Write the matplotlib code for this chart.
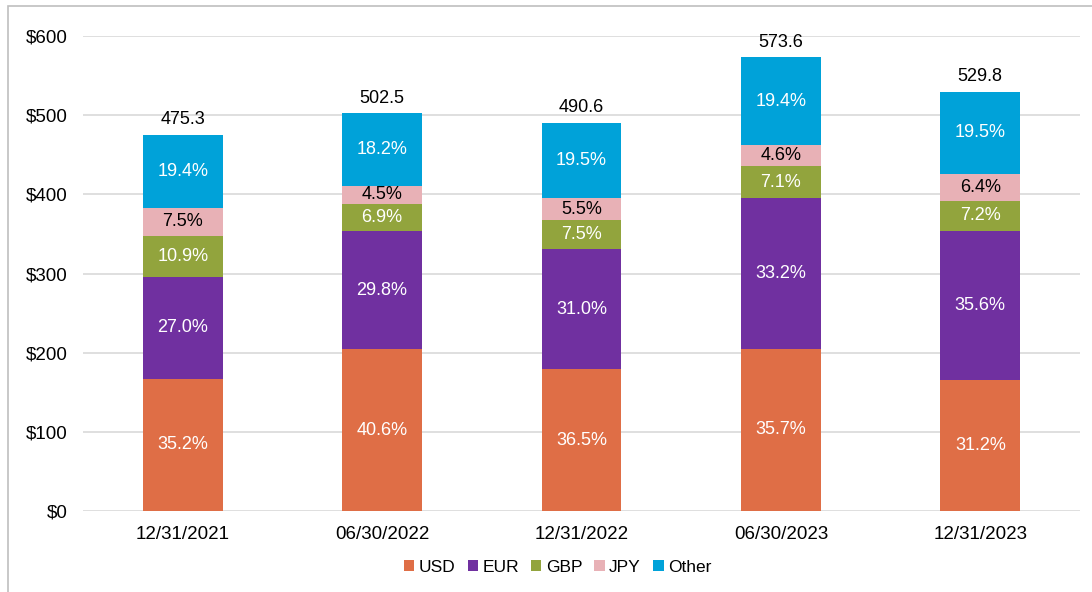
import numpy as np
import matplotlib.pyplot as plt
from matplotlib.patches import Rectangle

# 資料
dates = ['12/31/2021', '06/30/2022', '12/31/2022', '06/30/2023', '12/31/2023']
totals = [475.3, 502.5, 490.6, 573.6, 529.8]
usd = [35.2, 40.6, 36.5, 35.7, 31.2]
eur = [27.0, 29.8, 31.0, 33.2, 35.6]
gbp = [10.9, 6.9, 7.5, 7.1, 7.2]
jpy = [7.5, 4.5, 5.5, 4.6, 6.4]
other = [19.4, 18.2, 19.5, 19.4, 19.5]

names = ['USD', 'EUR', 'GBP', 'JPY', 'Other']
colors = ['#DF6E46', '#7030A0', '#92A43D', '#E8B1B6', '#00A2D9']
label_colors = ['white', 'white', 'white', 'black', 'white']

plt.rcParams['font.family'] = ['Liberation Sans', 'DejaVu Sans']

fig = plt.figure(figsize=(10.92, 5.92), dpi=100)
ax = fig.add_axes([0.076, 0.137, 0.913, 0.802])

x = np.arange(len(dates))
tot = np.array(totals)
bottom = np.zeros(len(dates))
for name, pct, c, lc in zip(names, [usd, eur, gbp, jpy, other], colors, label_colors):
    h = tot * np.array(pct) / 100
    ax.bar(x, h, 0.4, bottom=bottom, color=c, label=name, zorder=3)
    for xi, b, hi, p in zip(x, bottom, h, pct):
        ax.text(xi, b + hi / 2, f'{p:.1f}%', ha='center', va='center',
                color=lc, fontsize=13, zorder=4)
    bottom += h

for xi, t in zip(x, totals):
    ax.text(xi, t + 8, f'{t:.1f}', ha='center', va='bottom', fontsize=13)

ax.set_xlim(-0.5, 4.5)
ax.set_ylim(0, 600)
ax.set_yticks(range(0, 601, 100))
ax.set_yticklabels([f'${v}' for v in range(0, 601, 100)])
ax.set_xticks(x)
ax.set_xticklabels(dates)
ax.tick_params(length=0, labelsize=13.5)
ax.tick_params(axis='y', pad=11)
ax.tick_params(axis='x', pad=11)
ax.grid(axis='y', color='#D9D9D9', lw=1.2, zorder=0)
for s in ax.spines.values():
    s.set_visible(False)

ax.legend(loc='upper center', bbox_to_anchor=(0.476, -0.07), ncol=5, frameon=False,
          fontsize=12.5, handlelength=0.6, handleheight=0.6, handletextpad=0.25,
          columnspacing=0.7)

# 外框
fig.patches.append(Rectangle((8 / 1092, -0.1), 1.2, 1.1 - 6 / 592, transform=fig.transFigure,
                             fill=False, edgecolor='#BFBFBF', lw=1.2))

fig.savefig('out.png', dpi=100)
